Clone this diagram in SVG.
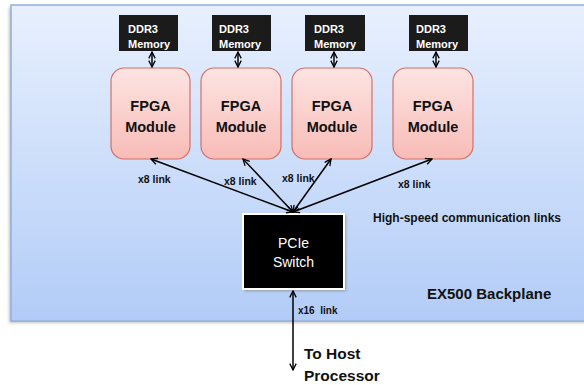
<svg xmlns="http://www.w3.org/2000/svg" width="584" height="385" viewBox="0 0 584 385">
<style>
  .ddr rect { fill: #1b1b1b; }
  .ddr text { fill: #ffffff; font-family: "Liberation Sans", Arial, sans-serif; font-weight: bold; font-size: 11px; }
  .fpga rect { fill: url(#pink); stroke: #d46f69; stroke-width: 1.2; }
  .fpga text { fill: #111; font-family: "Liberation Sans", Arial, sans-serif; font-weight: bold; font-size: 14.5px; text-anchor: middle; }
  .lbl { fill: #111; font-family: "Liberation Sans", Arial, sans-serif; font-weight: bold; }
  .conn line { stroke: #000; stroke-width: 1.5; marker-start: url(#arr); marker-end: url(#arr); }
</style>
<defs>
  <linearGradient id="bp" x1="0" y1="0" x2="0" y2="1">
    <stop offset="0" stop-color="#e8f0fe"/>
    <stop offset="1" stop-color="#b2ccf7"/>
  </linearGradient>
  <linearGradient id="pink" x1="0" y1="0" x2="0" y2="1">
    <stop offset="0" stop-color="#fde4e2"/>
    <stop offset="1" stop-color="#f8bcb7"/>
  </linearGradient>
  <filter id="sh" x="-10%" y="-10%" width="120%" height="120%">
    <feGaussianBlur stdDeviation="1.5"/>
  </filter>
  <marker id="arr" viewBox="0 0 10 10" refX="9" refY="5" markerWidth="8" markerHeight="8" markerUnits="userSpaceOnUse" orient="auto-start-reverse">
    <path d="M1,1 L9,5 L1,9" fill="none" stroke="#000" stroke-width="1.6"/>
  </marker>
</defs>

<g id="backplane">
  <rect x="9" y="7" width="600" height="316" fill="#9a9a9a" opacity="0.6" filter="url(#sh)"/>
  <rect x="11" y="5" width="600" height="316" fill="url(#bp)" stroke="#8fb0dc" stroke-width="1.5"/>
  <text class="lbl" x="427" y="299" font-size="15">EX500 Backplane</text>
  <text class="lbl" x="373" y="222" font-size="12">High-speed communication links</text>
</g>

<g id="ddr1" class="ddr"><rect x="119" y="15" width="59" height="36"/><text x="128" y="33">DDR3</text><text x="128" y="48">Memory</text></g>
<g id="ddr2" class="ddr"><rect x="212" y="15" width="59" height="36"/><text x="219" y="33">DDR3</text><text x="219" y="48">Memory</text></g>
<g id="ddr3" class="ddr"><rect x="305" y="15" width="60" height="36"/><text x="314" y="33">DDR3</text><text x="314" y="48">Memory</text></g>
<g id="ddr4" class="ddr"><rect x="409" y="15" width="59" height="36"/><text x="416" y="33">DDR3</text><text x="416" y="48">Memory</text></g>

<g id="fpga1" class="fpga"><rect x="111" y="68" width="79" height="91" rx="13"/><text x="150.5" y="111">FPGA</text><text x="150.5" y="132">Module</text></g>
<g id="fpga2" class="fpga"><rect x="201" y="68" width="80" height="91" rx="13"/><text x="241" y="111">FPGA</text><text x="241" y="132">Module</text></g>
<g id="fpga3" class="fpga"><rect x="292" y="68" width="80" height="91" rx="13"/><text x="332" y="111">FPGA</text><text x="332" y="132">Module</text></g>
<g id="fpga4" class="fpga"><rect x="393" y="68" width="80" height="91" rx="13"/><text x="433" y="111">FPGA</text><text x="433" y="132">Module</text></g>

<g id="switch">
  <rect x="244" y="215" width="102" height="76" fill="#777" opacity="0.6" filter="url(#sh)"/>
  <rect x="243" y="214" width="101" height="75" fill="#000" stroke="#fff" stroke-width="2"/>
  <text x="293.5" y="248" fill="#fff" font-family="Liberation Sans, Arial, sans-serif" font-size="14" text-anchor="middle">PCIe</text>
  <text x="293.5" y="267" fill="#fff" font-family="Liberation Sans, Arial, sans-serif" font-size="14" text-anchor="middle">Switch</text>
</g>

<g id="host">
  <text class="lbl" x="304" y="359" font-size="15.5">To Host</text>
  <text class="lbl" x="304" y="381" font-size="15.5">Processor</text>
</g>

<g id="connectors" class="conn">
  <line x1="152" y1="52" x2="152" y2="67"/>
  <line x1="238" y1="52" x2="238" y2="67"/>
  <line x1="334" y1="52" x2="334" y2="67"/>
  <line x1="436" y1="52" x2="436" y2="67"/>
  <line x1="293" y1="212" x2="151" y2="159"/>
  <line x1="293" y1="212" x2="243" y2="159"/>
  <line x1="293" y1="212" x2="331" y2="159"/>
  <line x1="293" y1="212" x2="432" y2="159"/>
  <line x1="293" y1="291" x2="293" y2="370"/>
  <text class="lbl" x="138" y="183" font-size="10.5">x8 link</text>
  <text class="lbl" x="224" y="185" font-size="10.5">x8 link</text>
  <text class="lbl" x="282" y="182" font-size="10.5">x8 link</text>
  <text class="lbl" x="398" y="188" font-size="10.5">x8 link</text>
  <text class="lbl" x="298" y="314" font-size="10" xml:space="preserve">x16  link</text>
</g>
</svg>
